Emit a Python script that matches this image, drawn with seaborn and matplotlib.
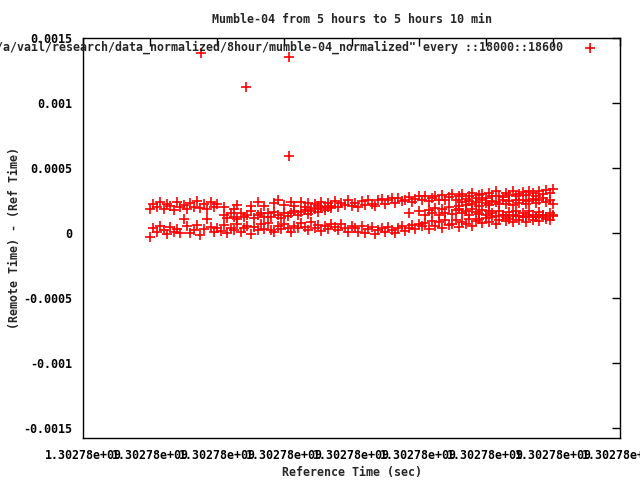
import numpy as np
import pandas as pd
import seaborn as sns
import matplotlib
matplotlib.use('Agg')
import matplotlib.pyplot as plt
from matplotlib.ticker import FuncFormatter, MultipleLocator

# start of the window (epoch seconds), samples taken every 5 s for the bands
t_start = 1302781000
step = 5
nan = np.nan

# offsets in microseconds
# lower band, t = 0 .. 600
lower_us = [-30, 40, 5, 55, 20, -10, 45, 10, 30, -5, 110, 50, 0, 25, 60, -15, 30, 105, 45, 5, 35,
            15, 60, -5, 40, 25, 70, 10, 35, 55, -10, 45, 20, 65, 30, 75, 25, 5, 50, 30, 70, 40, 10, 55, 35, 75,
            45, 20, 80, 35, 60, 15, 50, 30, 70, 45, 20, 65, 40, 10, 55,
            35, 5, 50, 0, 30, 45, -10, 20, 40, 5, 45, 25, -5, 35, 50, 15, 40, 60, 30, 65,
            50, 75, 30, 90, 55, 80, 35, 95, 60, 70, 100, 45, 85, 65, 105, 55, 90, 110,
            75, 115, 85, 125, 70, 100, 135, 90, 110, 80, 130, 95, 120, 85, 140, 100, 125, 90, 135, 105, 95, 130]

# upper band, t = 0 .. 600
upper_us = [180, 220, 195, 240, 185, 225, 205, 175, 235, 195, 215, 185, 230, 200, 245, 190, 220, 180, 235, 200, 225,
            nan, 200, nan, nan, 185, 215, nan, nan, nan, 210,
            nan, 235, nan, 210, nan, nan, 230, 250, nan, 215, nan, 240, 210, nan, 235,
            200, 230, 190, 225, 210, 240, 195, 230, 210, 245, 200, 230, 215, 250, 210,
            230, 200, 245, 215, 255, 225, 205, 250, 260, 225, 250, 265, 230, 270, 245, 255, 275, 235, 260, 280,
            250, 280, 245, 270, 285, 255, 290, 250, 275, 295, 255, 280, 300, 260, 285, 305, 265, 290,
            295, 270, 305, 280, 320, 285, 275, 310, 290, 325, 280, 300, 315, 290, 325, 305, 285, 320, 300, 330, 310, 335]

# middle trace, t = 110 .. 270
mid1_start = 110
mid1_us = [140, 115, 155, 125, 105, 150, 120, 140, 165, 115, 135, 155, 120, 150, 125, 160, 140,
           115, 155, 130, 150, 165, 135, 160, 175, 145, 170, 185, 160, 190, 175, 200, 190]

# middle trace, t = 350 .. 600
mid2_start = 350
mid2_us = [nan, nan, nan, nan, nan, nan, nan, 150, nan, nan, 165, nan, 135, 175, 150, 190, 140,
           180, 155, 195, 145, 175, 185, 150, 170, 140, 180, 160, 145, 175, 135, 170, 150, 130,
           165, 140, 125, 160, 135, 170, 130, 155, 120, 165, 135, 125, 160, 140, 120, 155, 135]

# upper-middle trace, t = 460 .. 600
mid3_start = 460
mid3_us = [210, 235, 215, 245, 220, 240, 210, 250, 230, 215, 245, 235, 220, 255, 225,
           245, 215, 250, 230, 255, 220, 245, 260, 230, 250, 265, 240, 255, 225]

# outliers
out_t = [76, 143, 207, 207]
out_us = [1385, 1120, 1350, 590]

frames = []
for start, vals in [(0, lower_us), (0, upper_us), (mid1_start, mid1_us),
                    (mid2_start, mid2_us), (mid3_start, mid3_us)]:
    t = start + step * np.arange(len(vals))
    frames.append(pd.DataFrame({'t': t, 'us': vals}))
frames.append(pd.DataFrame({'t': out_t, 'us': out_us}))
df = pd.concat(frames).dropna()
df['x'] = t_start + df['t']
df['y'] = df['us'] * 1e-6

sns.set_theme(style='white')
plt.rcParams['font.family'] = ['DejaVu Sans Mono']
plt.rcParams['font.weight'] = 'bold'
plt.rcParams['font.size'] = 8.4

fig = plt.figure(figsize=(6.4, 4.8), dpi=100)
ax = fig.add_axes([83 / 640, 1 - 438 / 480, 537 / 640, 400 / 480])

label = '/a/vail/research/data_normalized/8hour/mumble-04_normalized" every ::18000::18600'
sns.scatterplot(data=df, x='x', y='y', ax=ax, marker='+', color='red', s=50,
                linewidth=1.2, label=label)

ax.set_xlim(t_start - 100, t_start + 700)
ax.set_ylim(-0.00158, 0.0015)
ax.xaxis.set_major_locator(MultipleLocator(100))
ax.yaxis.set_major_locator(MultipleLocator(0.0005))
ax.xaxis.set_major_formatter(FuncFormatter(lambda v, p: '%g' % v))
ax.yaxis.set_major_formatter(FuncFormatter(lambda v, p: '0' if abs(v) < 1e-12 else '%g' % v))
ax.tick_params(direction='in', length=6, width=1, top=True, right=True,
               labelsize=8.4, pad=8, colors='black')
for s in ax.spines.values():
    s.set_color('black')
    s.set_linewidth(1)

ax.set_title('Mumble-04 from 5 hours to 5 hours 10 min', fontsize=8.4, fontweight='bold', pad=11)
ax.set_xlabel('Reference Time (sec)', fontsize=8.4, fontweight='bold', labelpad=3)
ax.set_ylabel('(Remote Time) - (Ref Time)', fontsize=8.4, fontweight='bold', labelpad=1)

ax.legend(loc='upper right', bbox_to_anchor=(1 - 18 / 537, 1 - 3 / 400), markerfirst=False,
          frameon=False, borderaxespad=0, borderpad=0, handletextpad=1.3,
          handlelength=2, prop={'family': 'DejaVu Sans Mono', 'weight': 'bold', 'size': 8.4})

fig.savefig('out.png', dpi=100)
